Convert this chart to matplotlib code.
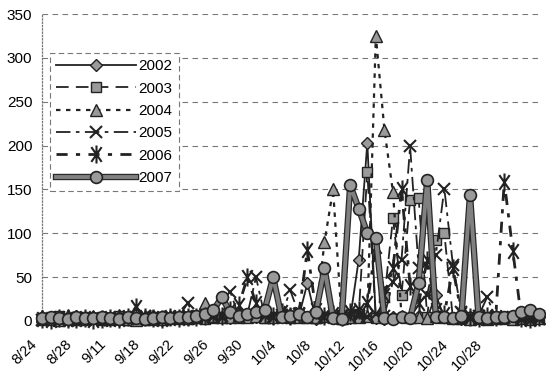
import math
import matplotlib
matplotlib.use('Agg')
import matplotlib.pyplot as plt
from matplotlib.path import Path
import matplotlib.patheffects as pe
from matplotlib.transforms import ScaledTranslation
from matplotlib.legend_handler import HandlerTuple

# categories (dates)
dates = ['8/24', '8/25', '8/26', '8/27', '8/28', '8/29', '8/30', '8/31',
         '9/11', '9/12', '9/13', '9/14', '9/18', '9/19', '9/20', '9/21',
         '9/22', '9/23', '9/24', '9/25', '9/26', '9/27', '9/28', '9/29',
         '9/30', '10/1', '10/2', '10/3', '10/4', '10/5', '10/6', '10/7',
         '10/8', '10/9', '10/10', '10/11', '10/12', '10/13', '10/14', '10/15',
         '10/16', '10/17', '10/18', '10/19', '10/20', '10/21', '10/22', '10/23',
         '10/24', '10/25', '10/26', '10/27', '10/28', '10/29', '10/30', '10/31',
         '11/1', '11/2', '11/3']
tick_labels = ['8/24', '8/28', '9/11', '9/18', '9/22', '9/26', '9/30',
               '10/4', '10/8', '10/12', '10/16', '10/20', '10/24', '10/28']

y2002 = [2, 5, 2, 1, 6, 2, 4, 3, 2, 1, 5, 2, 2, 6, 1, 2, 3, 2, 4, 3,
         5, 4, 3, 6, 5, 4, 8, 3, 4, 3, 5, 43, 2, 5, 3, 4, 3, 70, 203, 3,
         2, 4, 5, 3, 6, 3, 30, 4, 3, 2, 5, 3, 2, 4, 3, 2, 6, 8, 5]
y2003 = [1, 2, 6, 2, 1, 5, 3, 1, 2, 6, 1, 2, 1, 5, 3, 2, 2, 4, 3, 2,
         3, 5, 4, 3, 6, 4, 3, 5, 4, 3, 6, 5, 3, 5, 4, 3, 5, 8, 170, 3,
         27, 117, 30, 138, 140, 5, 92, 100, 3, 2, 4, 3, 2, 3, 2, 4, 3, 5, 4]
y2004 = [6, 2, 1, 7, 3, 2, 6, 3, 2, 7, 2, 1, 6, 2, 2, 6, 4, 3, 5, 20,
         6, 4, 5, 8, 5, 6, 4, 5, 6, 8, 5, 4, 5, 90, 150, 3, 4, 5, 6, 325,
         218, 147, 6, 4, 5, 3, 6, 4, 3, 4, 2, 3, 2, 3, 4, 2, 3, 2, 3]
y2005 = [1, 2, 1, 3, 2, 1, 2, 2, 1, 3, 2, 4, 6, 3, 2, 4, 5, 20, 4, 3,
         5, 6, 33, 5, 8, 50, 6, 5, 7, 35, 8, 5, 6, 4, 5, 7, 5, 6, 4, 8,
         6, 45, 70, 199, 60, 30, 75, 151, 64, 10, 5, 6, 27, 4, 3, 5, 4, 3, 2]
y2006 = [2, 1, 3, 2, 2, 3, 1, 2, 3, 2, 4, 16, 4, 3, 2, 5, 3, 4, 5, 6,
         8, 6, 12, 18, 50, 20, 8, 6, 10, 6, 8, 81, 12, 6, 8, 5, 10, 12, 20, 85,
         30, 60, 150, 40, 20, 70, 12, 8, 60, 8, 5, 3, 6, 4, 159, 80, 3, 2, 4]
y2007 = [3, 4, 3, 2, 4, 3, 3, 4, 3, 2, 4, 3, 2, 3, 4, 3, 5, 4, 6, 8,
         12, 27, 10, 6, 8, 10, 12, 50, 4, 6, 8, 5, 10, 60, 3, 2, 155, 128, 100, 95,
         3, 2, 4, 3, 43, 161, 5, 4, 3, 6, 144, 4, 3, 4, 5, 6, 10, 12, 8]

series_names = ['2002', '2003', '2004', '2005', '2006', '2007']
series_values = [y2002, y2003, y2004, y2005, y2006, y2007]

plt.rcParams['font.family'] = ['Liberation Sans', 'DejaVu Sans']

# asterisk marker (X with a vertical bar)
a = math.radians(55)
ca, sa = math.cos(a), math.sin(a)
star = Path([(0, -1), (0, 1), (-ca, -sa), (ca, sa), (-ca, sa), (ca, -sa)],
            [Path.MOVETO, Path.LINETO] * 3)

EDGE = '#222222'
FILL = '#9a9a9a'
styles = [
    dict(ls='-', lw=1.3, marker='D', ms=6.5),
    dict(ls=(0, (7, 4)), lw=1.3, marker='s', ms=7),
    dict(ls=(0, (2, 2.5)), lw=1.6, marker='^', ms=8.5),
    dict(ls=(0, (8, 3, 2, 3)), lw=1.3, marker='x', ms=9, mew=1.5),
    dict(ls=(0, (4, 3, 1.5, 3)), lw=2.0, marker=star, ms=13, mew=1.5),
]

fig = plt.figure(figsize=(5.46, 3.78), dpi=100)
ax = fig.add_axes([42 / 546, 57 / 378, 496.5 / 546, 307 / 378])
x = list(range(len(dates)))

handles = []
for i, (name, vals) in enumerate(zip(series_names[:5], series_values[:5])):
    st = styles[i]
    ln, = ax.plot(x, vals, color=EDGE, linestyle=st['ls'], lw=st['lw'],
                  marker=st['marker'], ms=st['ms'], mfc=FILL, mec=EDGE,
                  mew=st.get('mew', 1.0), clip_on=False, zorder=3 + i,
                  label=name)
    handles.append(ln)

ln7, = ax.plot(x, y2007, color='#808080', lw=2.8, clip_on=False, zorder=9,
               path_effects=[pe.Stroke(linewidth=4.6, foreground='#2a2a2a'),
                             pe.Normal()])
mk7, = ax.plot(x, y2007, ls='none', marker='o', ms=8.5, mfc=FILL, mec=EDGE,
               mew=1.2, clip_on=False, zorder=10)
handles.append((ln7, mk7))

ax.set_xlim(0, len(dates) - 1)
ax.set_ylim(0, 350)
ax.set_yticks(range(0, 351, 50))
ax.yaxis.grid(True, color='#777777', ls=(0, (5, 4)), lw=0.8)
ax.set_axisbelow(True)
for s in ['top', 'right', 'bottom']:
    ax.spines[s].set_visible(False)
ax.spines['left'].set_linestyle(':')
ax.spines['left'].set_color('#777777')
ax.spines['left'].set_linewidth(0.9)

tick_pos = [dates.index(t) for t in tick_labels]
ax.set_xticks(tick_pos)
ax.set_xticklabels(tick_labels, rotation=45, ha='right', va='center',
                   rotation_mode='anchor', fontsize=10.5)
ax.tick_params(axis='x', length=0, pad=15)
ax.tick_params(axis='y', length=0, pad=7, labelsize=11)
offset = ScaledTranslation(-7 / 100, 0, fig.dpi_scale_trans)
for lab in ax.get_xticklabels():
    lab.set_transform(lab.get_transform() + offset)

leg = ax.legend(handles, series_names, loc='upper left',
                bbox_to_anchor=(50 / 546, 1 - 53 / 378),
                bbox_transform=fig.transFigure, borderaxespad=0,
                handlelength=5.2, handletextpad=0.2, borderpad=0.4,
                labelspacing=0.55, fontsize=11, fancybox=False,
                framealpha=1, edgecolor='#777777', numpoints=1,
                handler_map={tuple: HandlerTuple(ndivide=1)})
leg.get_frame().set_linestyle((0, (5, 3)))
leg.get_frame().set_linewidth(0.8)
leg.set_zorder(20)

fig.savefig('out.png', dpi=100)
